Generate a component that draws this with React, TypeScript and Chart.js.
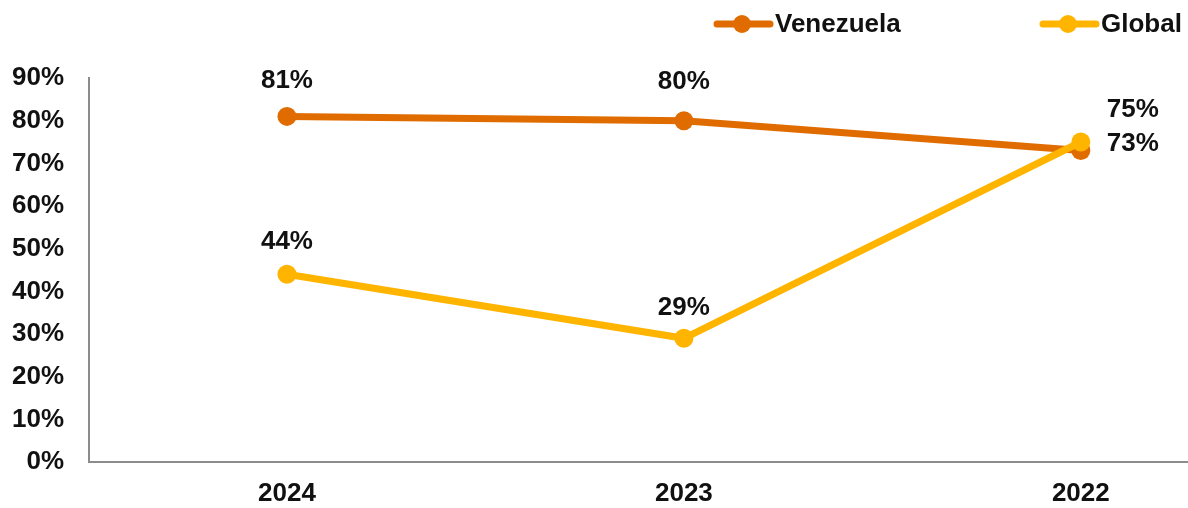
import React, { useEffect, useRef } from "react";
import { Chart, registerables } from "chart.js";

Chart.register(...registerables);

const categories = ["2024", "2023", "2022"];
const venezuela = [81, 80, 73];
const global = [44, 29, 75];
const yTicks = [0, 10, 20, 30, 40, 50, 60, 70, 80, 90];

const ORANGE = "#E06C00";
const YELLOW = "#FFB400";
const FONT = "'Liberation Sans', Arial, sans-serif";
// label placement (dx, dy) per dataset/point, relative to point
const labelOffsets = [
  [[0, -36], [0, -39], [52, -7]],
  [[0, -32], [0, -30], [52, -32]],
];

const labelPlugin = {
  id: "labelsAndLegend",
  afterDatasetsDraw(chart: any) {
    const ctx = chart.ctx;
    ctx.save();
    ctx.font = `bold 26px ${FONT}`;
    ctx.fillStyle = "#111";
    ctx.textAlign = "center";
    ctx.textBaseline = "middle";
    chart.data.datasets.forEach((ds: any, di: number) => {
      const meta = chart.getDatasetMeta(di);
      meta.data.forEach((pt: any, i: number) => {
        const v = ds.data[i].y;
        const [dx, dy] = labelOffsets[di][i];
        ctx.fillText(`${v}%`, pt.x + dx, pt.y + dy);
      });
    });
    // legend
    const items = [
      { label: "Venezuela", color: ORANGE, x: 714 },
      { label: "Global", color: YELLOW, x: 1040 },
    ];
    const ly = 24;
    items.forEach((it) => {
      ctx.strokeStyle = it.color;
      ctx.lineWidth = 7;
      ctx.lineCap = "round";
      ctx.beginPath();
      ctx.moveTo(it.x + 3, ly);
      ctx.lineTo(it.x + 56, ly);
      ctx.stroke();
      ctx.fillStyle = it.color;
      ctx.beginPath();
      ctx.arc(it.x + 28, ly, 9, 0, Math.PI * 2);
      ctx.fill();
      ctx.fillStyle = "#111";
      ctx.textAlign = "left";
      ctx.fillText(it.label, it.x + 61, ly + 1);
    });
    ctx.restore();
  },
};

export default function App() {
  const ref = useRef<HTMLCanvasElement>(null);
  useEffect(() => {
    if (!ref.current) return;
    const chart = new Chart(ref.current, {
      type: "line",
      data: {
        datasets: [
          {
            label: "Venezuela",
            data: venezuela.map((v, i) => ({ x: i, y: v })),
            borderColor: ORANGE,
            backgroundColor: ORANGE,
            borderWidth: 7,
            pointRadius: 9.5,
            pointHoverRadius: 9.5,
            pointBorderWidth: 0,
            order: 2,
          },
          {
            label: "Global",
            data: global.map((v, i) => ({ x: i, y: v })),
            borderColor: YELLOW,
            backgroundColor: YELLOW,
            borderWidth: 7,
            pointRadius: 9.5,
            pointHoverRadius: 9.5,
            pointBorderWidth: 0,
            order: 1,
          },
        ],
      },
      options: {
        animation: false,
        responsive: true,
        maintainAspectRatio: false,
        layout: { autoPadding: false, padding: { top: 78, right: 0, left: 0, bottom: 0 } },
        plugins: { legend: { display: false }, tooltip: { enabled: false } },
        scales: {
          x: {
            type: "linear",
            min: -0.4987,
            max: 2.27,
            afterBuildTicks: (scale: any) => {
              scale.ticks = categories.map((_, i) => ({ value: i }));
            },
            afterFit: (scale: any) => {
              scale.height = 46;
            },
            grid: { display: false, drawTicks: false },
            border: { display: true, color: "#8C8C8C", width: 2 },
            ticks: {
              padding: 16,
              color: "#111",
              font: { family: FONT, size: 26, weight: "bold" },
              callback: (v: any) => categories[v] ?? "",
              autoSkip: false,
              maxRotation: 0,
            },
          },
          y: {
            min: 0,
            max: 90,
            afterBuildTicks: (scale: any) => {
              scale.ticks = yTicks.map((v) => ({ value: v }));
            },
            afterFit: (scale: any) => {
              scale.width = 89;
            },
            grid: { display: false, drawTicks: false },
            border: { display: true, color: "#8C8C8C", width: 2 },
            ticks: {
              padding: 25,
              color: "#111",
              font: { family: FONT, size: 26, weight: "bold" },
              callback: (v: any) => `${v}%`,
            },
          },
        },
      },
      plugins: [labelPlugin],
    });
    return () => chart.destroy();
  }, []);
  return (
    <div style={{ position: "fixed", left: 0, top: 0, width: 1188, height: 508, background: "#fff" }}>
      <canvas ref={ref} />
    </div>
  );
}
